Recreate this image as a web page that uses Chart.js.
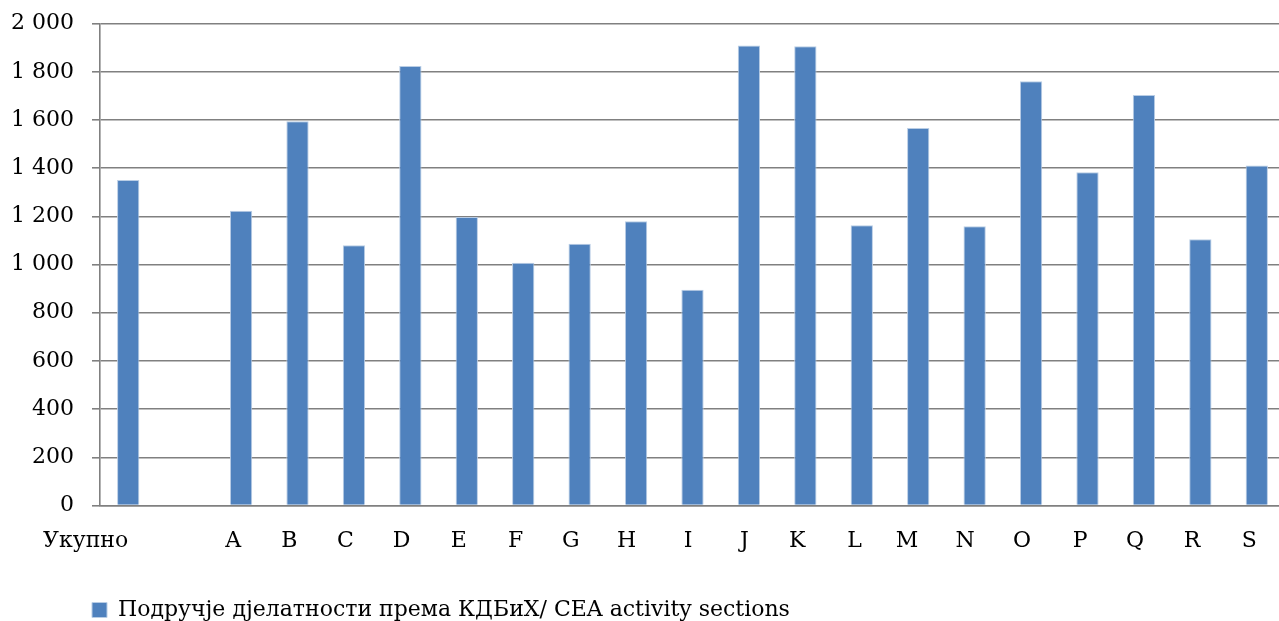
<!DOCTYPE html>
<html>
<head>
<meta charset="utf-8">
<script src="https://cdn.jsdelivr.net/npm/chart.js@4"></script>
<style>
html,body{margin:0;padding:0;background:#fff;overflow:hidden}
#wrap{width:1285px;height:631px;position:relative}
</style>
</head>
<body>
<div id="wrap"><canvas id="chart"></canvas></div>
<script>
/* podaci očitani sa slike */
const categories=['Укупно','','A','B','C','D','E','F','G','H','I','J','K','L','M','N','O','P','Q','R','S'];
const values=[1351,null,1224,1595,1080,1824,1198,1008,1087,1180,896,1910,1906,1163,1567,1159,1761,1383,1704,1105,1411];
const seriesName='Подручје дјелатности према КДБиХ/ CEA activity sections';
const yTicks=[0,200,400,600,800,1000,1200,1400,1600,1800,2000];

const FONT='"DejaVu Serif", "Liberation Serif", serif';
const fmt=v=>String(v).replace(/\B(?=(\d{3})+(?!\d))/g,' ');

/* legenda pomaknuta ulijevo kao u originalu */
const legendShift={id:'legendShift',afterLayout(c){if(c.legend)c.legend.left=82;}};

new Chart(document.getElementById('chart'),{
  type:'bar',
  data:{labels:categories,datasets:[{label:seriesName,data:values,
    backgroundColor:'#4F81BD',borderColor:'#B9CDE5',borderWidth:1,
    barPercentage:0.395,categoryPercentage:1}]},
  options:{responsive:true,maintainAspectRatio:false,animation:false,
    layout:{padding:{top:23.7,right:0,bottom:0,left:0}},
    plugins:{tooltip:{enabled:false},
      legend:{position:'bottom',align:'start',
        labels:{font:{family:FONT,size:22},color:'#000',boxWidth:15,boxHeight:15,padding:10}}},
    scales:{
      x:{grid:{display:false,drawTicks:false},
        border:{display:true,color:'#808080',width:1.6},
        ticks:{align:'end',autoSkip:false,maxRotation:0,padding:23,color:'#000',font:{family:FONT,size:22}},
        afterFit(s){s.height=83.5;s.paddingLeft=0;s.paddingRight=0;}},
      y:{min:0,max:2000,
        afterBuildTicks(s){s.ticks=yTicks.map(v=>({value:v}));},
        afterFit(s){s.width=100;s.paddingTop=0;s.paddingBottom=0;},
        grid:{color:'#808080',lineWidth:1.6,tickLength:8},
        border:{display:true,color:'#808080',width:1.6},
        ticks:{padding:18,color:'#000',font:{family:FONT,size:22},callback:v=>fmt(v)}}
    }},
  plugins:[legendShift]
});
</script>
</body>
</html>
